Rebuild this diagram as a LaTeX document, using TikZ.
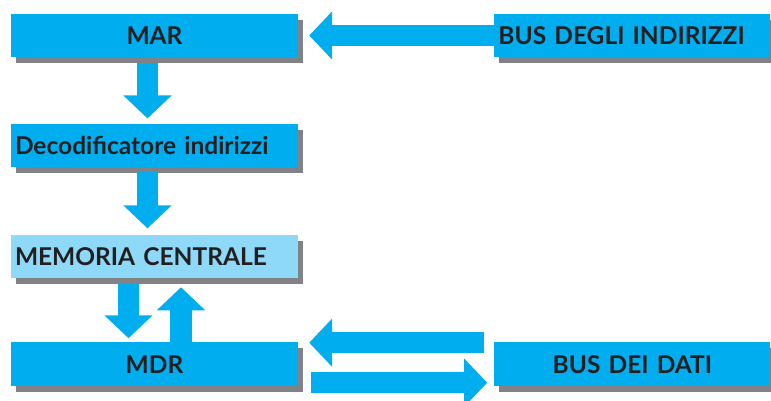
\documentclass[tikz,border=0pt]{standalone}
\usepackage{fontspec}
\setmainfont{Lato}
\usetikzlibrary{positioning, shadows, arrows.meta}
\definecolor{boxblue}{HTML}{00AEEF}
\definecolor{memblue}{HTML}{8ED8F8}
\definecolor{shadowgray}{HTML}{808285}
\definecolor{textdark}{HTML}{231F20}
\tikzstyle{leftbox} = [rectangle, minimum height=43.5pt, text width=279pt, inner xsep=4pt, inner ysep=0pt, fill=boxblue, text=textdark, font=\bfseries\fontsize{24.5}{28}\selectfont, drop shadow={shadow xshift=5pt, shadow yshift=-6pt, fill=shadowgray, opacity=1}]
\tikzstyle{rightbox} = [leftbox, text width=268pt]
\tikzstyle{blockarrow} = [draw=boxblue, line width=21.5pt, -{Triangle[width=47pt, length=23pt, fill=boxblue]}]

\begin{document}
\begin{tikzpicture}

    \useasboundingbox (0,0) rectangle (771pt,-401pt);

    % Nodes
    \node (mar) [leftbox, align=center] at (154.5pt,-35.5pt) {MAR};
    \node (dec) [leftbox, align=left, below=66pt of mar] {Decodificatore indirizzi};
    \node (mem) [leftbox, align=left, fill=memblue, below=67pt of dec] {MEMORIA CENTRALE};
    \node (mdr) [leftbox, align=center, below=64pt of mem] {MDR};
    \node (busind) [rightbox, align=left, right=196pt of mar] {BUS DEGLI INDIRIZZI};
    \node (busdati) [rightbox, align=center, right=196pt of mdr] {BUS DEI DATI};

    % Arrows
    \draw [blockarrow, shorten <=6pt, shorten >=5pt] ([xshift=-7pt]mar.south) -- ([xshift=-7pt]dec.north);
    \draw [blockarrow, shorten <=5pt, shorten >=6pt] ([xshift=-7pt]dec.south) -- ([xshift=-7pt]mem.north);
    \draw [blockarrow, shorten <=5pt, shorten >=4pt] ([xshift=-26pt]mem.south) -- ([xshift=-26pt]mdr.north);
    \draw [blockarrow, shorten >=9pt] ([xshift=26.5pt]mdr.north) -- ([xshift=26.5pt]mem.south);
    \draw [blockarrow, shorten >=11pt] (busind.west) -- (busind.west -| mar.east);
    \draw [blockarrow, shorten <=10pt, shorten >=11pt] ([yshift=21.5pt]busdati.west) -- ([yshift=21.5pt]mdr.east);
    \draw [blockarrow, shorten <=13pt, shorten >=7pt] ([yshift=-18.5pt]mdr.east) -- ([yshift=-18.5pt]busdati.west);
\end{tikzpicture}
\end{document}
